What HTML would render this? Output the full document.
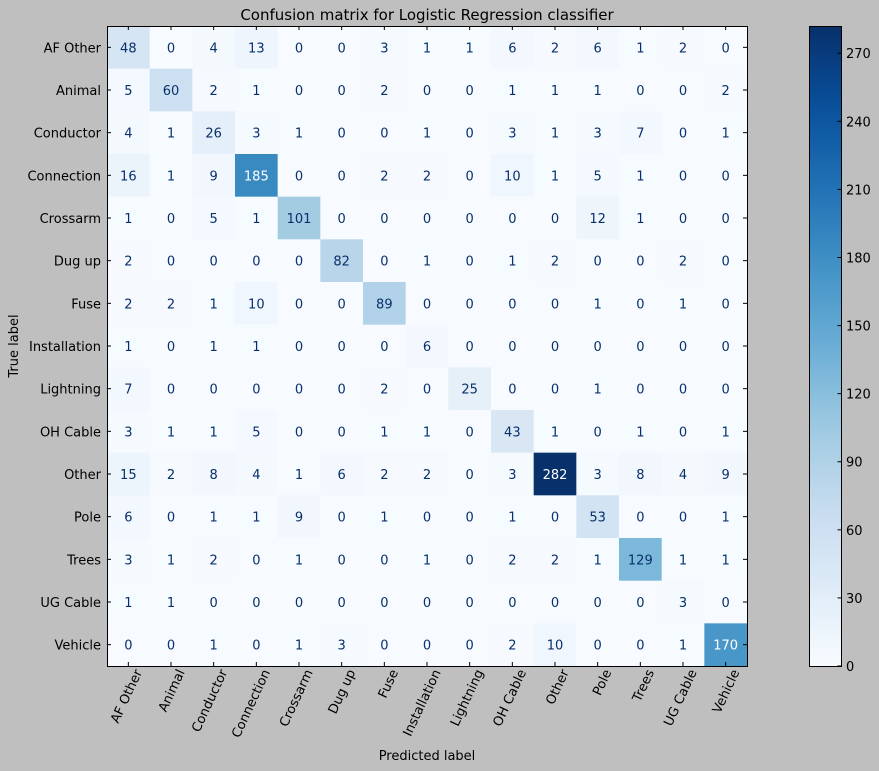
<!DOCTYPE html>
<html><head><meta charset="utf-8">
<style>
body{margin:0;background:#bfbfbf;}
svg{display:block;font-family:"DejaVu Sans","Liberation Sans",sans-serif;}
</style></head>
<body>
<svg id="chart" width="879" height="771" xmlns="http://www.w3.org/2000/svg">
<rect width="879" height="771" fill="#bfbfbf"/>
<text x="427" y="20" text-anchor="middle" font-size="15" fill="#000">Confusion matrix for Logistic Regression classifier</text>
<text x="427" y="760" text-anchor="middle" font-size="13" fill="#000">Predicted label</text>
<text transform="translate(18,346) rotate(-90)" text-anchor="middle" font-size="13" fill="#000">True label</text>
<defs><linearGradient id="cbg" x1="0" y1="1" x2="0" y2="0"></linearGradient></defs>
<g id="cells"></g>
<rect x="107.5" y="26.5" width="640" height="640" fill="none" stroke="#000"/>
<g id="cbar"></g>
</svg>
<script>
const labels=["AF Other","Animal","Conductor","Connection","Crossarm","Dug up","Fuse","Installation","Lightning","OH Cable","Other","Pole","Trees","UG Cable","Vehicle"];
const matrix=[
[48,0,4,13,0,0,3,1,1,6,2,6,1,2,0],
[5,60,2,1,0,0,2,0,0,1,1,1,0,0,2],
[4,1,26,3,1,0,0,1,0,3,1,3,7,0,1],
[16,1,9,185,0,0,2,2,0,10,1,5,1,0,0],
[1,0,5,1,101,0,0,0,0,0,0,12,1,0,0],
[2,0,0,0,0,82,0,1,0,1,2,0,0,2,0],
[2,2,1,10,0,0,89,0,0,0,0,1,0,1,0],
[1,0,1,1,0,0,0,6,0,0,0,0,0,0,0],
[7,0,0,0,0,0,2,0,25,0,0,1,0,0,0],
[3,1,1,5,0,0,1,1,0,43,1,0,1,0,1],
[15,2,8,4,1,6,2,2,0,3,282,3,8,4,9],
[6,0,1,1,9,0,1,0,0,1,0,53,0,0,1],
[3,1,2,0,1,0,0,1,0,2,2,1,129,1,1],
[1,1,0,0,0,0,0,0,0,0,0,0,0,3,0],
[0,0,1,0,1,3,0,0,0,2,10,0,0,1,170]];
const cbTicks=[0,30,60,90,120,150,180,210,240,270];
const NS="http://www.w3.org/2000/svg";
const blues=["#f7fbff","#deebf7","#c6dbef","#9ecae1","#6baed6","#4292c6","#2171b5","#08519c","#08306b"];
let vmax=0;matrix.forEach(r=>r.forEach(v=>{if(v>vmax)vmax=v;}));
const vmin=0;
function hex(h){return [1,3,5].map(i=>parseInt(h.substr(i,2),16));}
function cmap(t){t=Math.max(0,Math.min(1,t));const p=t*(blues.length-1);const i=Math.min(blues.length-2,Math.floor(p));const f=p-i;const a=hex(blues[i]),b=hex(blues[i+1]);return "rgb("+a.map((c,k)=>Math.round(c+(b[k]-c)*f)).join(",")+")";}
const X0=107,Y0=26,W=640,H=640,n=labels.length,cw=W/n,ch=H/n;
const xs=i=>X0+i*cw, ys=i=>Y0+i*ch;
const g=document.getElementById("cells");
function el(tag,attrs,parent){const e=document.createElementNS(NS,tag);for(const k in attrs)e.setAttribute(k,attrs[k]);parent.appendChild(e);return e;}
const thr=(vmax+vmin)/2;
matrix.forEach((row,r)=>row.forEach((v,c)=>{
 const rc=el("rect",{x:xs(c),y:ys(r),width:cw+0.5,height:ch+0.5,fill:cmap((v-vmin)/(vmax-vmin))},g);
 
 
 const t=el("text",{x:xs(c)+cw/2,y:ys(r)+ch/2+5,"text-anchor":"middle","font-size":"13",fill:v>thr?"#ffffff":"#08306b"},g);
 t.textContent=v;
 
 
}));
labels.forEach((l,i)=>{
 const ty=el("text",{x:X0-6,y:ys(i)+ch/2+5,"text-anchor":"end","font-size":"13",fill:"#000"},g);
 ty.textContent=l;
 
 
 const cx=xs(i)+cw/2;
 const tx=el("text",{transform:"translate("+(cx+14)+",672) rotate(-65)","text-anchor":"end","font-size":"13",fill:"#000"},g);
 tx.textContent=l;
 
 
 el("line",{x1:cx,x2:cx,y1:Y0,y2:Y0+4,stroke:"#000"},g);
 el("line",{x1:cx,x2:cx,y1:Y0+H,y2:Y0+H-4,stroke:"#000"},g);
 el("line",{x1:X0,x2:X0+4,y1:ys(i)+ch/2,y2:ys(i)+ch/2,stroke:"#000"},g);
 el("line",{x1:X0+W,x2:X0+W-4,y1:ys(i)+ch/2,y2:ys(i)+ch/2,stroke:"#000"},g);
});
const cb=document.getElementById("cbar");
const grad=document.getElementById("cbg");
for(let i=0;i<=20;i++){el("stop",{offset:(i/20),"stop-color":cmap(i/20)},grad);}
const CBX=809,CBW=32;
const cby=v=>Y0+H-(v-vmin)/(vmax-vmin)*H;
const cbr=el("rect",{x:CBX+0.5,y:Y0+0.5,width:CBW,height:H,fill:"url(#cbg)",stroke:"#000"},cb);


cbTicks.forEach(v=>{
 const y=cby(v);
 el("line",{x1:CBX+CBW+0.5,x2:CBX+CBW-3.5,y1:y,y2:y,stroke:"#000"},cb);
 const t=el("text",{x:CBX+CBW+5,y:y+5,"font-size":"13",fill:"#000"},cb);
 t.textContent=v;
 
 
});
</script>
</body></html>
